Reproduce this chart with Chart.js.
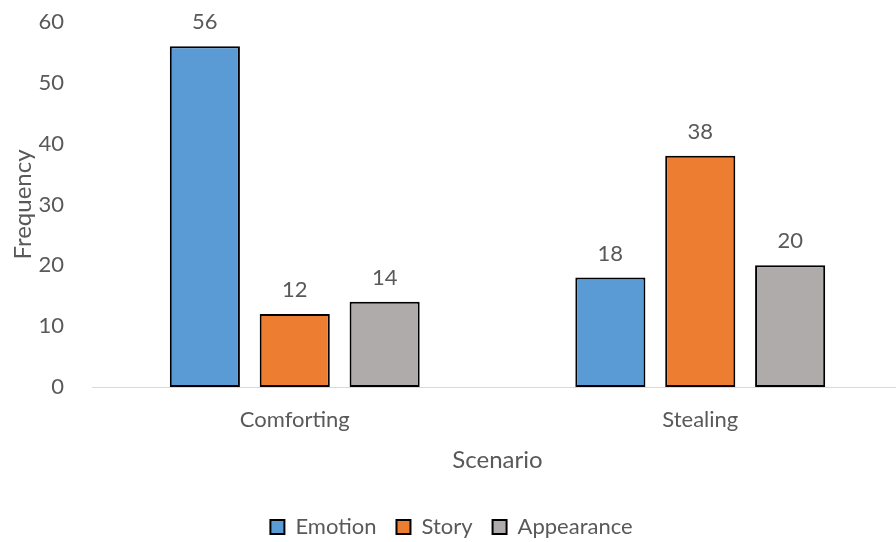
<!DOCTYPE html>
<html>
<head>
<meta charset="utf-8">
<script src="https://cdn.jsdelivr.net/npm/chart.js@4/dist/chart.umd.min.js"></script>
<style>
  html, body { margin: 0; padding: 0; background: #fff; }
  #wrap { width: 896px; height: 542px; overflow: hidden; }
  #box { width: 903px; height: 542px; position: relative; }
</style>
</head>
<body>
<div id="wrap"><div id="box"><canvas id="freqChart"></canvas></div></div>
<script>
// Frequencies per scenario
const scenarios = ["Comforting", "Stealing"];
const emotion = [56, 18];
const story = [12, 38];
const appearance = [14, 20];
const yTicks = [0, 10, 20, 30, 40, 50, 60];

const textColor = "#595959";
const fontFamily = "Lato, 'Liberation Sans', sans-serif";

// Writes each bar's value just above its top edge
const valueLabels = {
  id: "valueLabels",
  afterDatasetsDraw(chart) {
    const ctx = chart.ctx;
    ctx.save();
    ctx.font = "22px " + fontFamily;
    ctx.fillStyle = textColor;
    ctx.textAlign = "center";
    ctx.textBaseline = "bottom";
    chart.data.datasets.forEach((ds, i) => {
      chart.getDatasetMeta(i).data.forEach((bar, j) => {
        ctx.fillText(ds.data[j], bar.x, bar.y - 13);
      });
    });
    ctx.restore();
  },
};

const ctx = document.getElementById("freqChart").getContext("2d");
new Chart(ctx, {
  type: "bar",
  data: {
    labels: scenarios,
    datasets: [
      { label: "Emotion", data: emotion, backgroundColor: "#5B9BD5" },
      { label: "Story", data: story, backgroundColor: "#ED7D31" },
      { label: "Appearance", data: appearance, backgroundColor: "#AFABAB" },
    ].map((d) => ({
      ...d,
      borderColor: "#000",
      borderWidth: 2,
      borderSkipped: false,
      categoryPercentage: 0.665,
      barPercentage: 0.78,
    })),
  },
  options: {
    responsive: true,
    maintainAspectRatio: false,
    animation: false,
    layout: { padding: { top: 22, right: 0, bottom: -6, left: 0 } },
    plugins: {
      legend: {
        position: "bottom",
        labels: {
          boxWidth: 14,
          boxHeight: 14,
          padding: 20,
          color: textColor,
          font: { family: fontFamily, size: 22 },
          generateLabels(chart) {
            return chart.data.datasets.map((ds, i) => ({
              text: ds.label,
              fillStyle: ds.backgroundColor,
              strokeStyle: "#000",
              lineWidth: 2,
              fontColor: textColor,
              datasetIndex: i,
            }));
          },
        },
      },
      tooltip: { enabled: false },
    },
    scales: {
      x: {
        grid: { display: false },
        border: { display: true, color: "#D9D9D9", width: 1 },
        ticks: { color: textColor, font: { family: fontFamily, size: 22 }, padding: 12 },
        title: {
          display: true,
          text: "Scenario",
          color: textColor,
          font: { family: fontFamily, size: 24 },
          padding: { top: 4, bottom: 21 },
        },
        afterFit(scale) { scale.height = 109; },
      },
      y: {
        min: 0,
        max: 60,
        afterBuildTicks(scale) { scale.ticks = yTicks.map((v) => ({ value: v })); },
        grid: { display: false },
        border: { display: false },
        ticks: { color: textColor, font: { family: fontFamily, size: 22 }, padding: 20 },
        title: {
          display: true,
          text: "Frequency",
          color: textColor,
          font: { family: fontFamily, size: 24 },
          padding: { top: 9, bottom: 0 },
        },
        afterFit(scale) {
          scale.width = 92;
          scale.paddingTop = 0;
          scale.paddingBottom = 0;
        },
      },
    },
  },
  plugins: [valueLabels],
});
</script>
</body>
</html>
